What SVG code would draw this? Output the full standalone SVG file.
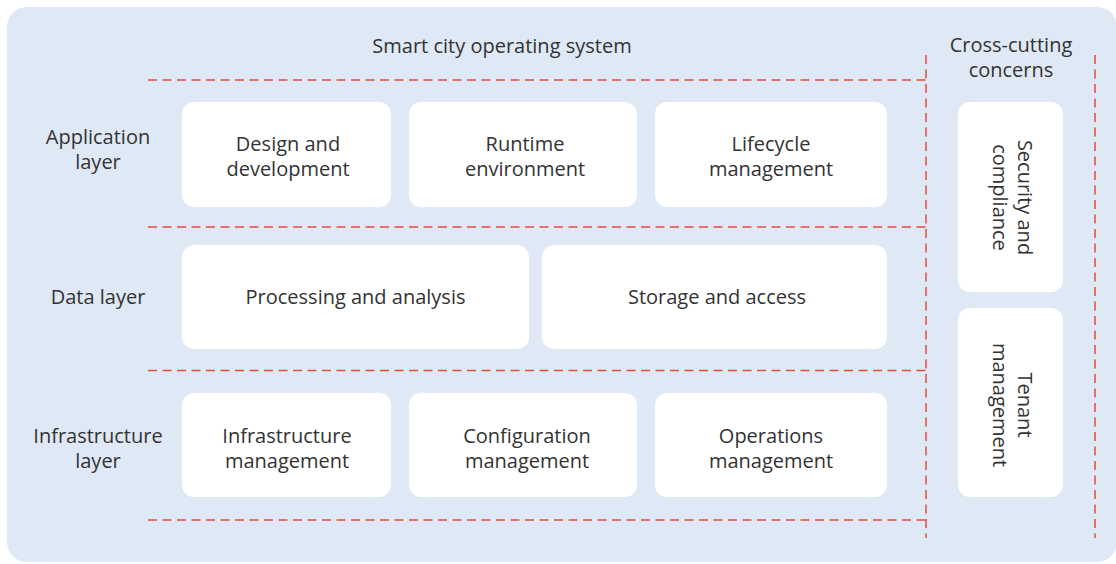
<svg xmlns="http://www.w3.org/2000/svg" width="1116" height="564" viewBox="0 0 1116 564">
<style>
.bg{fill:#dfe8f5}
.box{fill:#ffffff}
.t{font-family:"Open Sans","Noto Sans","Liberation Sans",sans-serif;font-size:20px;fill:#333333;text-anchor:middle}
.d{stroke:#e84a3c;stroke-width:1.5;fill:none;stroke-dasharray:9 5.5}
</style>
<rect class="bg" x="7" y="7" width="1110" height="555" rx="20"/>
<g id="titles">
<text class="t" x="502" y="53">Smart city operating system</text>
<text class="t" x="1011" y="52">Cross-cutting</text>
<text class="t" x="1011" y="77">concerns</text>
</g>
<g id="layer-labels">
<text class="t" x="98" y="144">Application</text>
<text class="t" x="98" y="169">layer</text>
<text class="t" x="98" y="304">Data layer</text>
<text class="t" x="98" y="443">Infrastructure</text>
<text class="t" x="98" y="468">layer</text>
</g>
<g id="connectors">
<path class="d" d="M148 80H926"/>
<path class="d" d="M148 227H926"/>
<path class="d" d="M148 370.5H926"/>
<path class="d" d="M148 520H926"/>
<path class="d" d="M926 55V538"/>
<path class="d" d="M1095 55V538"/>
</g>
<g id="design">
<rect class="box" x="182" y="102" width="209" height="105" rx="12"/>
<text class="t" x="288" y="151">Design and</text>
<text class="t" x="288" y="176">development</text>
</g>
<g id="runtime">
<rect class="box" x="409" y="102" width="228" height="105" rx="12"/>
<text class="t" x="525" y="151">Runtime</text>
<text class="t" x="525" y="176">environment</text>
</g>
<g id="lifecycle">
<rect class="box" x="655" y="102" width="232" height="105" rx="12"/>
<text class="t" x="771" y="151">Lifecycle</text>
<text class="t" x="771" y="176">management</text>
</g>
<g id="processing">
<rect class="box" x="182" y="245" width="347" height="104" rx="12"/>
<text class="t" x="355.5" y="304">Processing and analysis</text>
</g>
<g id="storage">
<rect class="box" x="542" y="245" width="345" height="104" rx="12"/>
<text class="t" x="717" y="304">Storage and access</text>
</g>
<g id="infra-mgmt">
<rect class="box" x="182" y="393" width="209" height="104" rx="12"/>
<text class="t" x="287" y="443">Infrastructure</text>
<text class="t" x="287" y="468">management</text>
</g>
<g id="config-mgmt">
<rect class="box" x="409" y="393" width="228" height="104" rx="12"/>
<text class="t" x="527" y="443">Configuration</text>
<text class="t" x="527" y="468">management</text>
</g>
<g id="ops-mgmt">
<rect class="box" x="655" y="393" width="232" height="104" rx="12"/>
<text class="t" x="771" y="443">Operations</text>
<text class="t" x="771" y="468">management</text>
</g>
<g id="security">
<rect class="box" x="958" y="102" width="105" height="190" rx="12"/>
<g transform="translate(1011 197.5) rotate(90)">
<text class="t" x="0" y="-7">Security and</text>
<text class="t" x="0" y="18">compliance</text>
</g>
</g>
<g id="tenant">
<rect class="box" x="958" y="308" width="105" height="189" rx="12"/>
<g transform="translate(1011 405) rotate(90)">
<text class="t" x="0" y="-7">Tenant</text>
<text class="t" x="0" y="18">management</text>
</g>
</g>
</svg>
